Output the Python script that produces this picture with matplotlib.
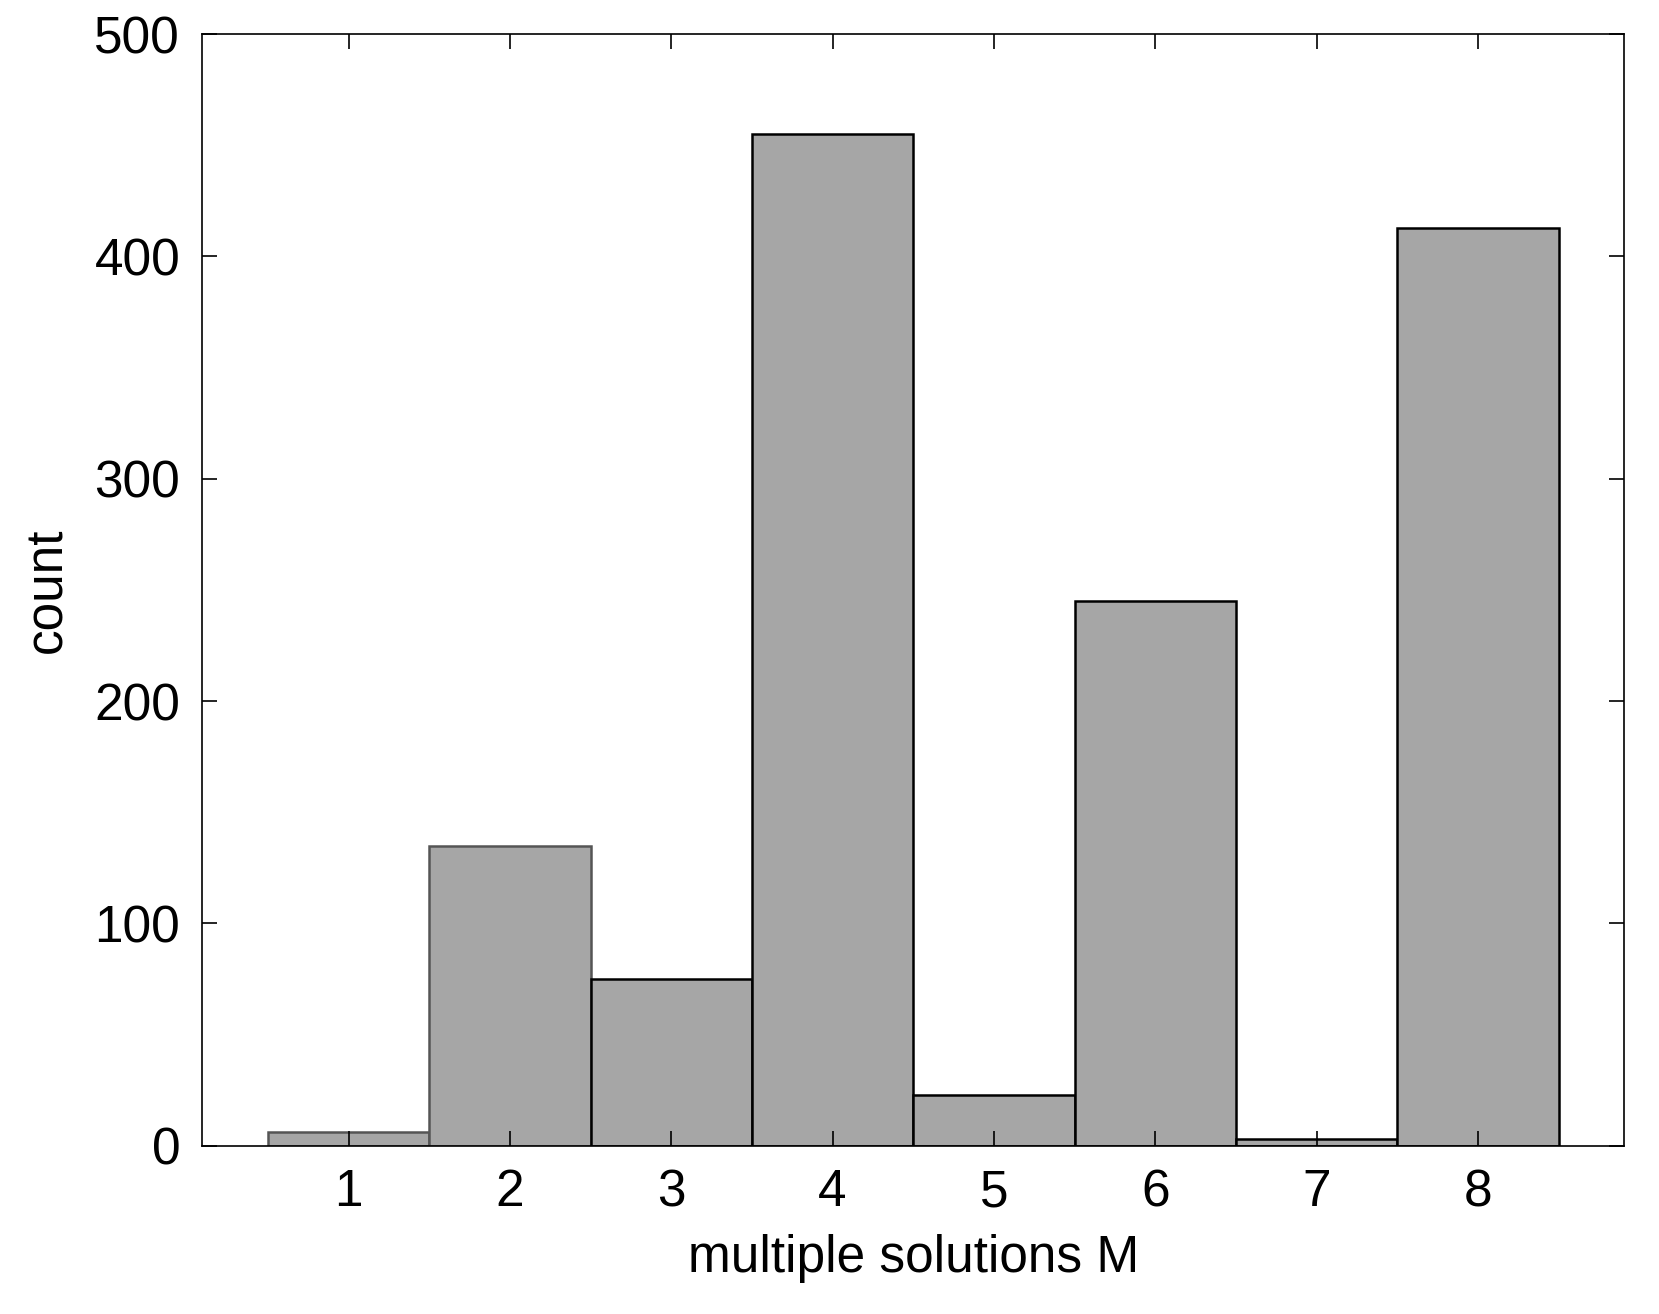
import matplotlib
matplotlib.use("Agg")
import matplotlib.pyplot as plt

categories = [1, 2, 3, 4, 5, 6, 7, 8]
counts = [6, 135, 75, 455, 23, 245, 3, 413]
edge_colors = ['#555555', '#555555', 'black', 'black', 'black', 'black', 'black', 'black']

plt.rcParams['font.family'] = ['Liberation Sans', 'DejaVu Sans']
fig = plt.figure(figsize=(16.59, 13.14), dpi=100)
ax = fig.add_axes([0.122, 0.128, 0.857, 0.846])
ax.bar(categories, counts, width=1.0, color='#a6a6a6', edgecolor=edge_colors, linewidth=1.8)
ax.set_xlim(0.094, 8.906)
ax.set_ylim(0, 500)
ax.set_xticks(categories)
ax.set_yticks(range(0, 501, 100))
ax.tick_params(direction='in', top=True, right=True, labelsize=37, length=11, width=1.2, pad=16)
for s in ax.spines.values():
    s.set_linewidth(1.2)
ax.set_xlabel('multiple solutions M', fontsize=37, labelpad=12)
ax.set_ylabel('count', fontsize=37, labelpad=16)
fig.savefig('out.png', dpi=100)
